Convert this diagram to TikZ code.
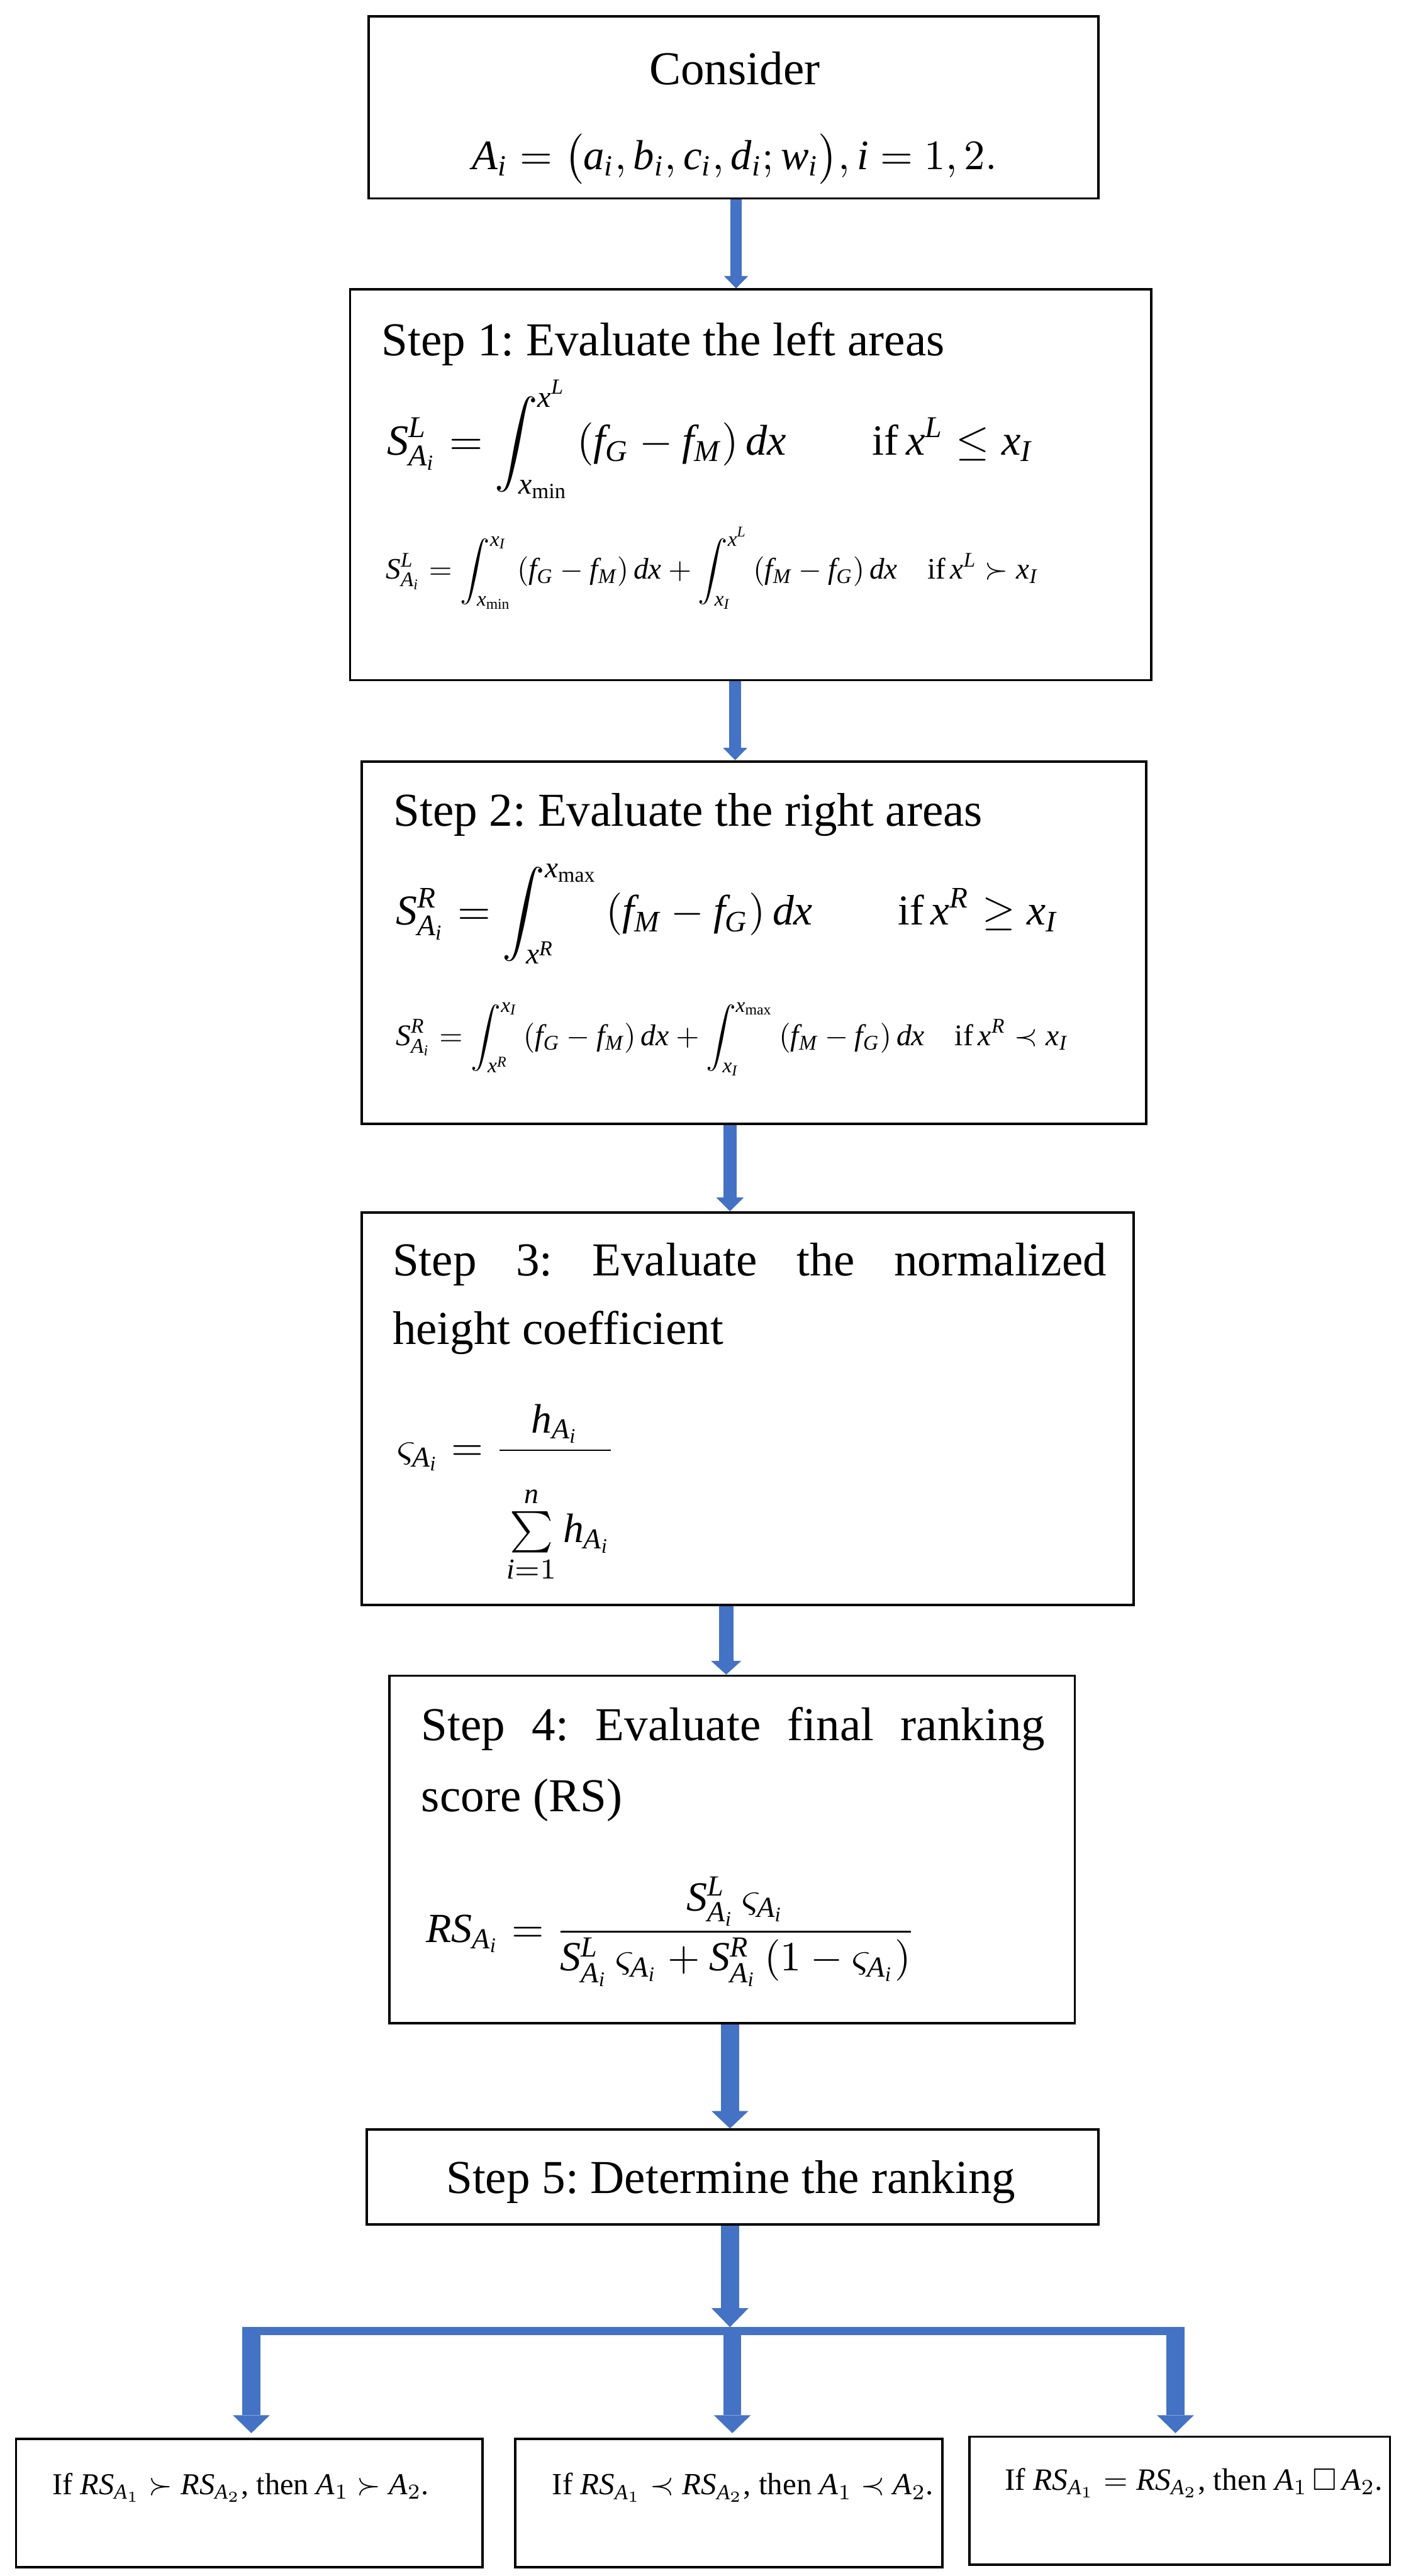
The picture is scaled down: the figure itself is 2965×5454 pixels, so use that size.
\documentclass[tikz,border=0pt]{standalone}
\usepackage{amsmath,amssymb}
\usepackage{graphicx}
\usepackage{fontspec}
\setmainfont{Liberation Serif}
\newfontfamily\tmathitfont[NFSSFamily=tmathit]{Liberation Serif}
\DeclareSymbolFont{tletters}{TU}{tmathit}{m}{it}
\makeatletter
\count@=`A
\loop
  \Umathcode\count@=7 \symtletters \count@
  \ifnum\count@<`Z \advance\count@\@ne
\repeat
\count@=`a
\loop
  \Umathcode\count@=7 \symtletters \count@
  \ifnum\count@<`z \advance\count@\@ne
\repeat
\makeatother
\frenchspacing
\usetikzlibrary{arrows.meta}
\definecolor{arrowblue}{HTML}{4472C4}
\tikzset{
  boxnode/.style={draw=black, line width=1pt, rectangle, inner sep=0pt},
  txt/.style={inner sep=0pt, font=\fontsize{20pt}{24pt}\selectfont},
  fml/.style={inner sep=0pt, anchor=west},
  bluearrow/.style n args={3}{draw=arrowblue, line width=#1,
    -{Triangle[width=#2,length=#3,line width=0pt]}},
  barline/.style={draw=arrowblue, line width=3.4pt},
}
\begin{document}
\begin{tikzpicture}[x=0.2pt,y=-0.2pt]
\useasboundingbox (0,0) rectangle (2965,5454);

% boxes
\node[boxnode, minimum width=309pt, minimum height=77pt] (b0) at (1552.5,227.5) {};
\node[boxnode, minimum width=339.2pt, minimum height=165.4pt] (b1) at (1589,1026.5) {};
\node[boxnode, minimum width=332pt, minimum height=153.4pt] (b2) at (1596,1995.5) {};
\node[boxnode, minimum width=326.6pt, minimum height=166.2pt] (b3) at (1582.5,2982.5) {};
\node[boxnode, minimum width=290.2pt, minimum height=147.2pt] (b4) at (1549.5,3916) {};
\node[boxnode, minimum width=309.8pt, minimum height=40.2pt] (b5) at (1550.5,4609.5) {};
\node[boxnode, minimum width=197.4pt, minimum height=54.2pt] (bl) at (527.5,5299.5) {};
\node[boxnode, minimum width=180.8pt, minimum height=54.2pt] (bm) at (1543,5299.5) {};
\node[boxnode, minimum width=178pt, minimum height=54.2pt] (br) at (2497,5294.5) {};

% box 0
\node[txt] (t0) at (1555,145) {Consider};
\node[inner sep=0pt] (f0) at (1555,337) {\resizebox{222pt}{!}{$A_i=\bigl(a_i,b_i,c_i,d_i;w_i\bigr),i=1,2.$}};

% box 1
\node[txt, anchor=west] (t1) at (807,728) {Step 1: Evaluate the left areas};
\node[fml] (f1) at (818,930) {\resizebox{273.4pt}{!}{$\displaystyle S^{L}_{A_i}=\int_{x_{\min}}^{x^{L}}\left(f_G-f_M\right)dx\qquad\text{if}\,x^{L}\le x_I$}};
\node[fml] (f1b) at (816,1203) {\resizebox{276pt}{!}{$\displaystyle S^{L}_{A_i}=\int_{x_{\min}}^{x_I}\left(f_G-f_M\right)dx+\int_{x_I}^{x^{L}}\left(f_M-f_G\right)dx\quad\text{if}\,x^{L}\succ x_I$}};

% box 2
\node[txt, anchor=west] (t2) at (832,1725) {Step 2: Evaluate the right areas};
\node[fml] (f2) at (837,1935) {\resizebox{280.2pt}{!}{$\displaystyle S^{R}_{A_i}=\int_{x^{R}}^{x_{\max}}\left(f_M-f_G\right)dx\qquad\text{if}\,x^{R}\ge x_I$}};
\node[fml] (f2b) at (837,2200) {\resizebox{284.4pt}{!}{$\displaystyle S^{R}_{A_i}=\int_{x^{R}}^{x_I}\left(f_G-f_M\right)dx+\int_{x_I}^{x_{\max}}\left(f_M-f_G\right)dx\quad\text{if}\,x^{R}\prec x_I$}};

% box 3
\node[txt, anchor=west] (t3a) at (830,2677) {\makebox[302.2pt][s]{Step 3: Evaluate the normalized}};
\node[txt, anchor=west] (t3b) at (830,2822) {height coefficient};
\node[fml] (f3) at (840,3162) {\resizebox{92.6pt}{!}{$\displaystyle \varsigma_{A_i}=\frac{h_{A_i}}{\rule{0pt}{2.1em}\sum\limits_{i=1}^{n}h_{A_i}}$}};

% box 4
\node[txt, anchor=west] (t4a) at (891,3660) {\makebox[264pt][s]{Step 4: Evaluate final ranking}};
\node[txt, anchor=west] (t4b) at (891,3812) {score (RS)};
\node[fml] (f4) at (901,4090) {\resizebox{207.4pt}{!}{$\displaystyle RS_{A_i}=\frac{S^{L}_{A_i}\,\varsigma_{A_i}}{S^{L}_{A_i}\,\varsigma_{A_i}+S^{R}_{A_i}\left(1-\varsigma_{A_i}\right)}$}};

% box 5
\node[txt] (t5) at (1547,4620) {Step 5: Determine the ranking};

% bottom boxes
\node[fml] (tl) at (110,5267) {\resizebox{159.4pt}{!}{If $RS_{A_1}\succ RS_{A_2}$, then $A_1\succ A_2$.}};
\node[fml] (tm) at (1168,5267) {\resizebox{161.4pt}{!}{If $RS_{A_1}\prec RS_{A_2}$, then $A_1\prec A_2$.}};
\node[fml] (tr) at (2126,5257) {\resizebox{160pt}{!}{If $RS_{A_1}=RS_{A_2}$, then $A_1\,\square\,A_2$.}};

% connectors
\coordinate (x01) at (1558,0);
\coordinate (x12) at (1556,0);
\coordinate (x23) at (1545,0);
\coordinate (x34) at (1537,0);
\coordinate (x45) at (1545,0);
\coordinate (x5b) at (1545,0);
\draw[bluearrow={5pt}{10.2pt}{5.2pt}] (b0.south -| x01) -- (b1.north -| x01);
\draw[bluearrow={5pt}{10.2pt}{5.2pt}] (b1.south -| x12) -- (b2.north -| x12);
\draw[bluearrow={5.6pt}{11.6pt}{5.8pt}] (b2.south -| x23) -- (b3.north -| x23);
\draw[bluearrow={6.2pt}{12.8pt}{5.8pt}] (b3.south -| x34) -- (b4.north -| x34);
\draw[bluearrow={7.6pt}{15.6pt}{7.4pt}] (b4.south -| x45) -- (b5.north -| x45);

\coordinate (barC) at (1545,4927);
\coordinate (barL) at (513,4935.5);
\coordinate (barR) at (2503,4935.5);
\coordinate (brL) at (532,4927);
\coordinate (brM) at (1550,4944);
\coordinate (brR) at (2488,4927);
\draw[bluearrow={7.6pt}{15.6pt}{8pt}] (b5.south -| x5b) -- (barC);
\draw[barline] (barL) -- (barR);
\draw[bluearrow={7.6pt}{15.6pt}{7.6pt}] (brL) -- ([yshift=2pt]bl.north -| brL);
\draw[bluearrow={7.6pt}{15.6pt}{7.6pt}] (brM) -- ([yshift=2pt]bm.north -| brM);
\draw[bluearrow={7.6pt}{15.6pt}{7.6pt}] (brR) -- ([yshift=1pt]br.north -| brR);
\end{tikzpicture}
\end{document}
